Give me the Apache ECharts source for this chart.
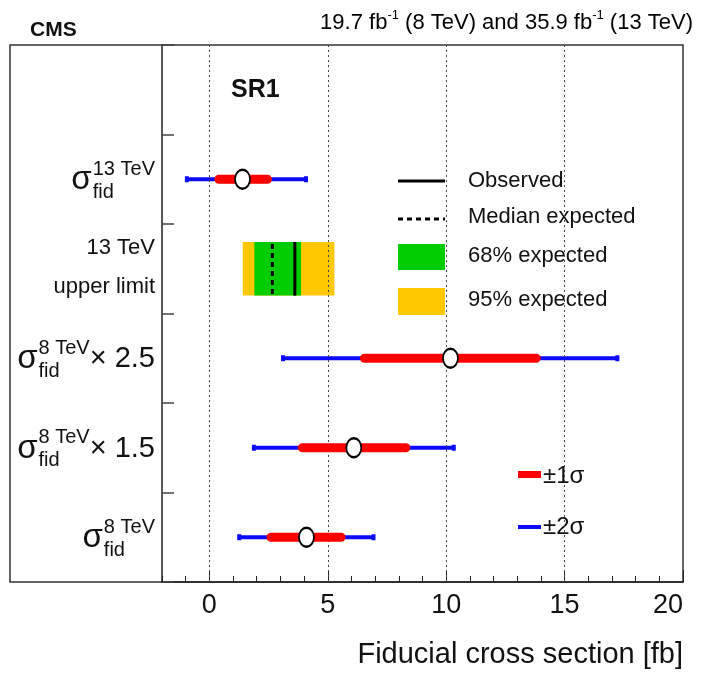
<!DOCTYPE html>
<html>
<head>
<meta charset="utf-8">
<script src="https://cdn.jsdelivr.net/npm/echarts@6/dist/echarts.min.js"></script>
<style>
html,body{margin:0;padding:0;background:#fff;}
#chart{width:701px;height:678px;}
</style>
</head>
<body>
<div id="chart"></div>
<script>
// ---- data ----
const rowPos        = [4.5, 2.5, 1.5, 0.5];          // y rows of the measurements
const centralValues = [1.40, 10.18, 6.10, 4.10];
const oneSigmaLo    = [0.40, 6.55, 3.93, 2.60];
const oneSigmaHi    = [2.45, 13.80, 8.30, 5.56];
const twoSigmaLo    = [-0.95, 3.11, 1.88, 1.26];
const twoSigmaHi    = [4.08, 17.23, 10.32, 6.93];

const limitRow      = 3.5;
const limitExp95    = [1.41, 5.28];
const limitExp68    = [1.90, 3.87];
const limitMedian   = 2.66;
const limitObserved = 3.61;

const xTickLabels   = [0, 5, 10, 15, 20];
const gridValues    = [0, 5, 10, 15];

const rowLabels = [
  {row: 4.5, sup: '13 TeV', sub: 'fid', suffix: ''},
  {row: 2.5, sup: '8 TeV',  sub: 'fid', suffix: '× 2.5'},
  {row: 1.5, sup: '8 TeV',  sub: 'fid', suffix: '× 1.5'},
  {row: 0.5, sup: '8 TeV',  sub: 'fid', suffix: ''}
];
const limitLabel = ['13 TeV', 'upper limit'];

const FONT = '"Liberation Sans", Arial, Helvetica, sans-serif';
const BLUE = '#0a0aff', RED = '#ff0000', GREEN = '#00cc00', YELLOW = '#ffc800';

const chart = echarts.init(document.getElementById('chart'), null, {renderer: 'canvas'});

const twoSigmaData = rowPos.map((y, i) => [twoSigmaLo[i], twoSigmaHi[i], y]);
const oneSigmaData = rowPos.map((y, i) => [oneSigmaLo[i], oneSigmaHi[i], y]);
const centralData  = rowPos.map((y, i) => [centralValues[i], y]);
const limitData = [[limitExp95[0], limitExp95[1], limitExp68[0], limitExp68[1], limitMedian, limitObserved, limitRow]];

function barRenderer(color, width, caps) {
  return function (params, api) {
    const y = api.value(2);
    const p1 = api.coord([api.value(0), y]);
    const p2 = api.coord([api.value(1), y]);
    const children = [{
      type: 'line',
      shape: {x1: p1[0], y1: p1[1], x2: p2[0], y2: p2[1]},
      style: {stroke: color, lineWidth: width, lineCap: caps ? 'butt' : 'round'}
    }];
    if (caps) {
      [p1, p2].forEach(p => children.push({
        type: 'rect',
        shape: {x: p[0] - 2, y: p[1] - 3, width: 4, height: 6},
        style: {fill: color}
      }));
    }
    return {type: 'group', children};
  };
}

function limitRenderer(params, api) {
  const y = api.value(6);
  const half = 0.3;
  const top = api.coord([0, y + half])[1];
  const bot = api.coord([0, y - half])[1];
  const x = v => api.coord([v, y])[0];
  return {
    type: 'group',
    children: [
      {type: 'rect', shape: {x: x(api.value(0)), y: top, width: x(api.value(1)) - x(api.value(0)), height: bot - top}, style: {fill: YELLOW}},
      {type: 'rect', shape: {x: x(api.value(2)), y: top, width: x(api.value(3)) - x(api.value(2)), height: bot - top}, style: {fill: GREEN}},
      {type: 'line', shape: {x1: x(api.value(4)), y1: top + 2, x2: x(api.value(4)), y2: bot}, style: {stroke: '#000', lineWidth: 3, lineDash: [5, 4]}},
      {type: 'line', shape: {x1: x(api.value(5)), y1: top, x2: x(api.value(5)), y2: bot}, style: {stroke: '#000', lineWidth: 3}}
    ]
  };
}

const lastTick = xTickLabels[xTickLabels.length - 1];

const option = {
  animation: false,
  backgroundColor: '#fff',
  grid: {left: 162, right: 18, top: 45, bottom: 96},
  xAxis: [{
    type: 'value', min: -2, max: 20, interval: 1,
    axisLine: {show: true, onZero: false, lineStyle: {color: '#222', width: 1.5}},
    axisTick: {show: true, inside: true, length: 6, lineStyle: {color: '#222'}},
    axisLabel: {
      show: true, margin: 10, fontSize: 27, color: '#111', fontFamily: FONT,
      formatter: v => (xTickLabels.indexOf(v) < 0 ? '' : (v === lastTick ? '{last|' + v + '}' : String(v))),
      rich: {last: {fontSize: 27, fontFamily: FONT, color: '#111', padding: [0, 30, 0, 0]}}
    },
    splitLine: {show: false},
    name: 'Fiducial cross section [fb]',
    nameLocation: 'end', nameGap: 0,
    nameTextStyle: {fontSize: 29, color: '#111', fontFamily: FONT, align: 'right', verticalAlign: 'top', padding: [58, 0, 0, 0]}
  }, {
    type: 'value', min: -2, max: 20, position: 'bottom', gridIndex: 0,
    axisLine: {show: false},
    axisTick: {show: true, inside: true, length: 12, customValues: xTickLabels, lineStyle: {color: '#222'}},
    axisLabel: {show: false},
    splitLine: {show: false}
  }],
  yAxis: {
    type: 'value', min: 0, max: 6, interval: 1,
    axisLine: {show: true, onZero: false, lineStyle: {color: '#222', width: 1.5}},
    axisTick: {show: true, inside: true, length: 12, lineStyle: {color: '#444', width: 1.5}},
    axisLabel: {show: false},
    splitLine: {show: false}
  },
  series: [
    {
      type: 'line', data: [], z: 1, silent: true,
      markLine: {
        silent: true, symbol: ['none', 'none'], label: {show: false},
        lineStyle: {color: '#444', width: 1, type: [2, 3]},
        data: gridValues.map(v => ({xAxis: v}))
      }
    },
    {type: 'custom', z: 3, renderItem: limitRenderer, data: limitData, encode: {x: [0, 1], y: 6}},
    {type: 'custom', z: 4, renderItem: barRenderer(BLUE, 4, true), data: twoSigmaData, encode: {x: [0, 1], y: 2}},
    {type: 'custom', z: 5, renderItem: barRenderer(RED, 9, false), data: oneSigmaData, encode: {x: [0, 1], y: 2}},
    {
      type: 'scatter', z: 6, data: centralData,
      symbol: 'path://M0,50 A50,50 0 1,1 100,50 A50,50 0 1,1 0,50 Z',
      symbolSize: [15, 19], symbolKeepAspect: false,
      itemStyle: {color: '#fff', borderColor: '#000', borderWidth: 2, opacity: 1}
    }
  ]
};
chart.setOption(option);

// ---- texts / labels laid out with the axis scale ----
const ctx = document.createElement('canvas').getContext('2d');
function tw(text, size, weight) {
  ctx.font = (weight || 'normal') + ' ' + size + 'px ' + FONT;
  return ctx.measureText(text).width;
}
const yPix = v => chart.convertToPixel({yAxisIndex: 0}, v);

const RIGHT = 155;
const SIG = 33, SCR = 20, SUF = 29;
const graphics = [];

// outer frame
graphics.push({
  type: 'rect', z: 0, silent: true,
  shape: {x: 10, y: 45, width: 673, height: 537},
  style: {fill: 'none', stroke: '#333', lineWidth: 1.5}
});

rowLabels.forEach(l => {
  const cy = yPix(l.row);
  const wS = tw('σ', SIG);
  const wScr = Math.max(tw(l.sup, SCR), tw(l.sub, SCR));
  const wSuf = l.suffix ? tw(l.suffix, SUF) : 0;
  const x0 = RIGHT - (wS + 1 + wScr + wSuf);
  graphics.push({type: 'text', x: x0, y: cy + 1, style: {text: 'σ', font: SIG + 'px ' + FONT, fill: '#111', verticalAlign: 'middle', align: 'left'}});
  graphics.push({type: 'text', x: x0 + wS + 1, y: cy - 10, style: {text: l.sup, font: SCR + 'px ' + FONT, fill: '#111', verticalAlign: 'middle', align: 'left'}});
  graphics.push({type: 'text', x: x0 + wS + 1, y: cy + 13, style: {text: l.sub, font: SCR + 'px ' + FONT, fill: '#111', verticalAlign: 'middle', align: 'left'}});
  if (l.suffix) {
    graphics.push({type: 'text', x: RIGHT, y: cy + 1, style: {text: l.suffix, font: SUF + 'px ' + FONT, fill: '#111', verticalAlign: 'middle', align: 'right'}});
  }
});

const cyL = yPix(limitRow);
graphics.push({type: 'text', x: RIGHT, y: cyL - 21, style: {text: limitLabel[0], font: '22px ' + FONT, fill: '#111', verticalAlign: 'middle', align: 'right'}});
graphics.push({type: 'text', x: RIGHT, y: cyL + 18, style: {text: limitLabel[1], font: '22px ' + FONT, fill: '#111', verticalAlign: 'middle', align: 'right'}});

// SR1
graphics.push({type: 'text', x: 231, y: yPix(5.5), style: {text: 'SR1', font: 'bold 25px ' + FONT, fill: '#111', verticalAlign: 'middle', align: 'left'}});

// header
graphics.push({type: 'text', x: 30, y: 30, style: {text: 'CMS', font: 'bold 21px ' + FONT, fill: '#111', verticalAlign: 'middle', align: 'left'}});
graphics.push({
  type: 'text', x: 693, y: 34,
  style: {
    align: 'right', verticalAlign: 'bottom',
    rich: {
      n: {fontSize: 22, fontFamily: FONT, color: '#111', verticalAlign: 'bottom'},
      s: {fontSize: 13, fontFamily: FONT, color: '#111', verticalAlign: 'top', padding: [0, 0, 12, 0]}
    },
    text: '{n|19.7 fb}{s|-1}{n| (8 TeV) and 35.9 fb}{s|-1}{n| (13 TeV)}'
  }
});

// legend (limits)
const LX = 398, LW = 47, TX = 468;
const legFont = '22px ' + FONT;
graphics.push({type: 'line', shape: {x1: LX, y1: 181, x2: LX + LW, y2: 181}, style: {stroke: '#000', lineWidth: 3}});
graphics.push({type: 'text', x: TX, y: 181, style: {text: 'Observed', font: legFont, fill: '#111', verticalAlign: 'middle'}});
graphics.push({type: 'line', shape: {x1: LX, y1: 219, x2: LX + LW, y2: 219}, style: {stroke: '#000', lineWidth: 3, lineDash: [5, 4]}});
graphics.push({type: 'text', x: TX, y: 217, style: {text: 'Median expected', font: legFont, fill: '#111', verticalAlign: 'middle'}});
graphics.push({type: 'rect', shape: {x: LX, y: 244, width: LW, height: 26}, style: {fill: GREEN}});
graphics.push({type: 'text', x: TX, y: 256, style: {text: '68% expected', font: legFont, fill: '#111', verticalAlign: 'middle'}});
graphics.push({type: 'rect', shape: {x: LX, y: 288, width: LW, height: 27}, style: {fill: YELLOW}});
graphics.push({type: 'text', x: TX, y: 300, style: {text: '95% expected', font: legFont, fill: '#111', verticalAlign: 'middle'}});

// legend (sigma bands)
graphics.push({type: 'rect', shape: {x: 518, y: 471, width: 23, height: 7}, style: {fill: RED}});
graphics.push({type: 'text', x: 543, y: 476, style: {text: '±1σ', font: '24px ' + FONT, fill: '#111', verticalAlign: 'middle'}});
graphics.push({type: 'rect', shape: {x: 518, y: 525, width: 23, height: 4}, style: {fill: BLUE}});
graphics.push({type: 'text', x: 543, y: 527, style: {text: '±2σ', font: '24px ' + FONT, fill: '#111', verticalAlign: 'middle'}});

chart.setOption({graphic: graphics.map(g => Object.assign({silent: true}, g))});
</script>
</body>
</html>
